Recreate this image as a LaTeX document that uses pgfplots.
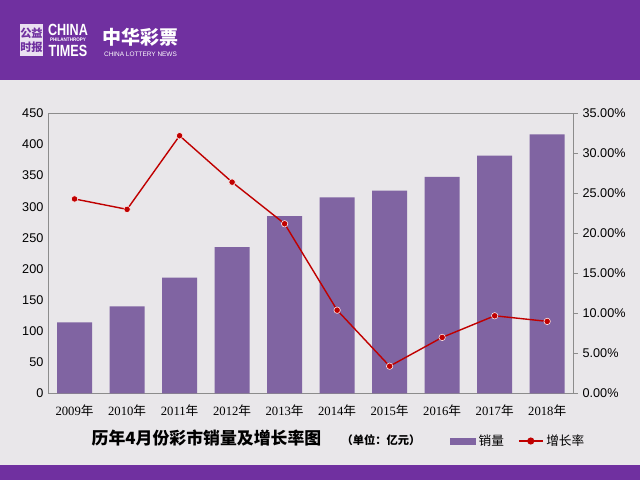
\documentclass[border=0pt]{standalone}
\usepackage{fontspec}
\setmainfont{Liberation Sans}
\newfontfamily\cjk{Noto Sans CJK SC}
\newfontfamily\yearfont{Liberation Serif}
\usepackage{pgfplots}
\pgfplotsset{compat=1.18}

\definecolor{hdr}{HTML}{7030A0}
\definecolor{barc}{HTML}{8064A2}
\definecolor{linec}{HTML}{C00000}
\definecolor{panel}{HTML}{E9E7EA}
\definecolor{axc}{HTML}{8C8C8C}

\newcommand{\yr}[1]{{\yearfont #1}{\cjk 年}}

\begin{document}
\begin{tikzpicture}
% background in pixel units (640 x 480)
\begin{scope}[x=0.025cm,y=-0.025cm,shift={(0,12cm)}]
  \path[use as bounding box] (0,0) rectangle (640,480);
  \fill[panel] (0,0) rectangle (640,480);
  \fill[hdr] (0,0) rectangle (640,80);
  \fill[hdr] (0,465) rectangle (640,480);
  % logos
  \fill[white!85!hdr] (20,24) rectangle (43,56);
  \node[text=hdr,font=\cjk\bfseries\fontsize{8}{10}\selectfont,align=center,inner sep=0] at (31.5,40) {公益\\时报};
  \node[text=white,font=\bfseries\fontsize{11.5}{11}\selectfont,xscale=0.78,inner sep=0] at (68,29.5) {CHINA};
  \node[text=white,font=\bfseries\fontsize{3.6}{4}\selectfont,xscale=0.9,inner sep=0] at (68,40.2) {PHILANTHROPY};
  \node[text=white,font=\bfseries\fontsize{11.5}{11}\selectfont,xscale=0.78,inner sep=0] at (68,51) {TIMES};
  \node[text=white,font=\cjk\bfseries\fontsize{13.5}{14}\selectfont,inner sep=0] at (140.5,37) {中华彩票};
  \node[text=white,font=\fontsize{4.6}{5}\selectfont,inner sep=0] at (140.5,54) {CHINA LOTTERY NEWS};
  % title and unit
  \node[font=\cjk\bfseries\fontsize{12}{12}\selectfont,inner sep=0] at (206.5,438) {历年4月份彩市销量及增长率图};
  \node[font=\cjk\bfseries\fontsize{8}{8}\selectfont,inner sep=0] at (381,440) {（单位：亿元）};
\end{scope}

\begin{axis}[
  at={(1.2075cm,2.1675cm)}, anchor=south west,
  scale only axis, width=13.125cm, height=7cm,
  xmin=-0.5, xmax=9.5, ymin=0, ymax=450,
  ytick={0,50,...,450},
  xtick={0,...,9},
  xticklabels={\yr{2009},\yr{2010},\yr{2011},\yr{2012},\yr{2013},\yr{2014},\yr{2015},\yr{2016},\yr{2017},\yr{2018}},
  major x tick style={draw=none},
  extra x ticks={-0.5,0.5,...,9.5},
  extra x tick labels={},
  extra x tick style={major tick length=3pt,tick align=inside,major tick style={draw=axc}},
  xtick pos=bottom, ytick pos=left,
  major y tick style={draw=none},
  axis line style={axc},
  tick label style={font=\fontsize{9}{10}\selectfont},
  /pgf/number format/assume math mode=true,
  ybar, bar width=0.875cm,
  axis background/.style={fill=panel},
]
\addplot[fill=barc, draw=none] coordinates {
  (0,114) (1,140) (2,186) (3,235) (4,285)
  (5,315) (6,326) (7,348) (8,382) (9,416)};
\end{axis}

\begin{axis}[
  at={(1.2075cm,2.1675cm)}, anchor=south west,
  scale only axis, width=13.125cm, height=7cm,
  xmin=-0.5, xmax=9.5, ymin=0, ymax=35,
  axis x line=none,
  axis y line*=right,
  ytick={0,5,...,35},
  yticklabel={\pgfmathprintnumber[fixed,fixed zerofill,precision=2]{\tick}\%},
  major tick length=3pt,
  tick align=outside,
  axis line style={axc},
  major y tick style={draw=axc},
  tick label style={font=\fontsize{9}{10}\selectfont},
  /pgf/number format/assume math mode=true,
  legend style={at={(rel axis cs:0.765,-0.170)}, anchor=west, draw=none, fill=none,
    inner sep=0pt, font=\cjk\fontsize{9}{10}\selectfont, legend columns=2,
    /tikz/every even column/.append style={column sep=8pt}},
]
\addlegendimage{legend image code/.code={\fill[barc] (0cm,-0.075cm) rectangle (0.625cm,0.075cm);}}
\addlegendentry{销量}
\addplot[linec, line width=1pt, mark=*, mark size=2.3pt,
  mark options={fill=linec, draw=white!75!pink, line width=0.4pt},
  legend image code/.code={\draw[linec, line width=1pt] (0cm,0cm) -- (0.6cm,0cm);
    \fill[linec] (0.3cm,0cm) circle (2pt);}]
  coordinates {
  (0,24.3) (1,23.0) (2,32.2) (3,26.4) (4,21.2)
  (5,10.4) (6,3.4) (7,7.0) (8,9.7) (9,9.0)};
\addlegendentry{增长率}
\end{axis}
\end{tikzpicture}
\end{document}
